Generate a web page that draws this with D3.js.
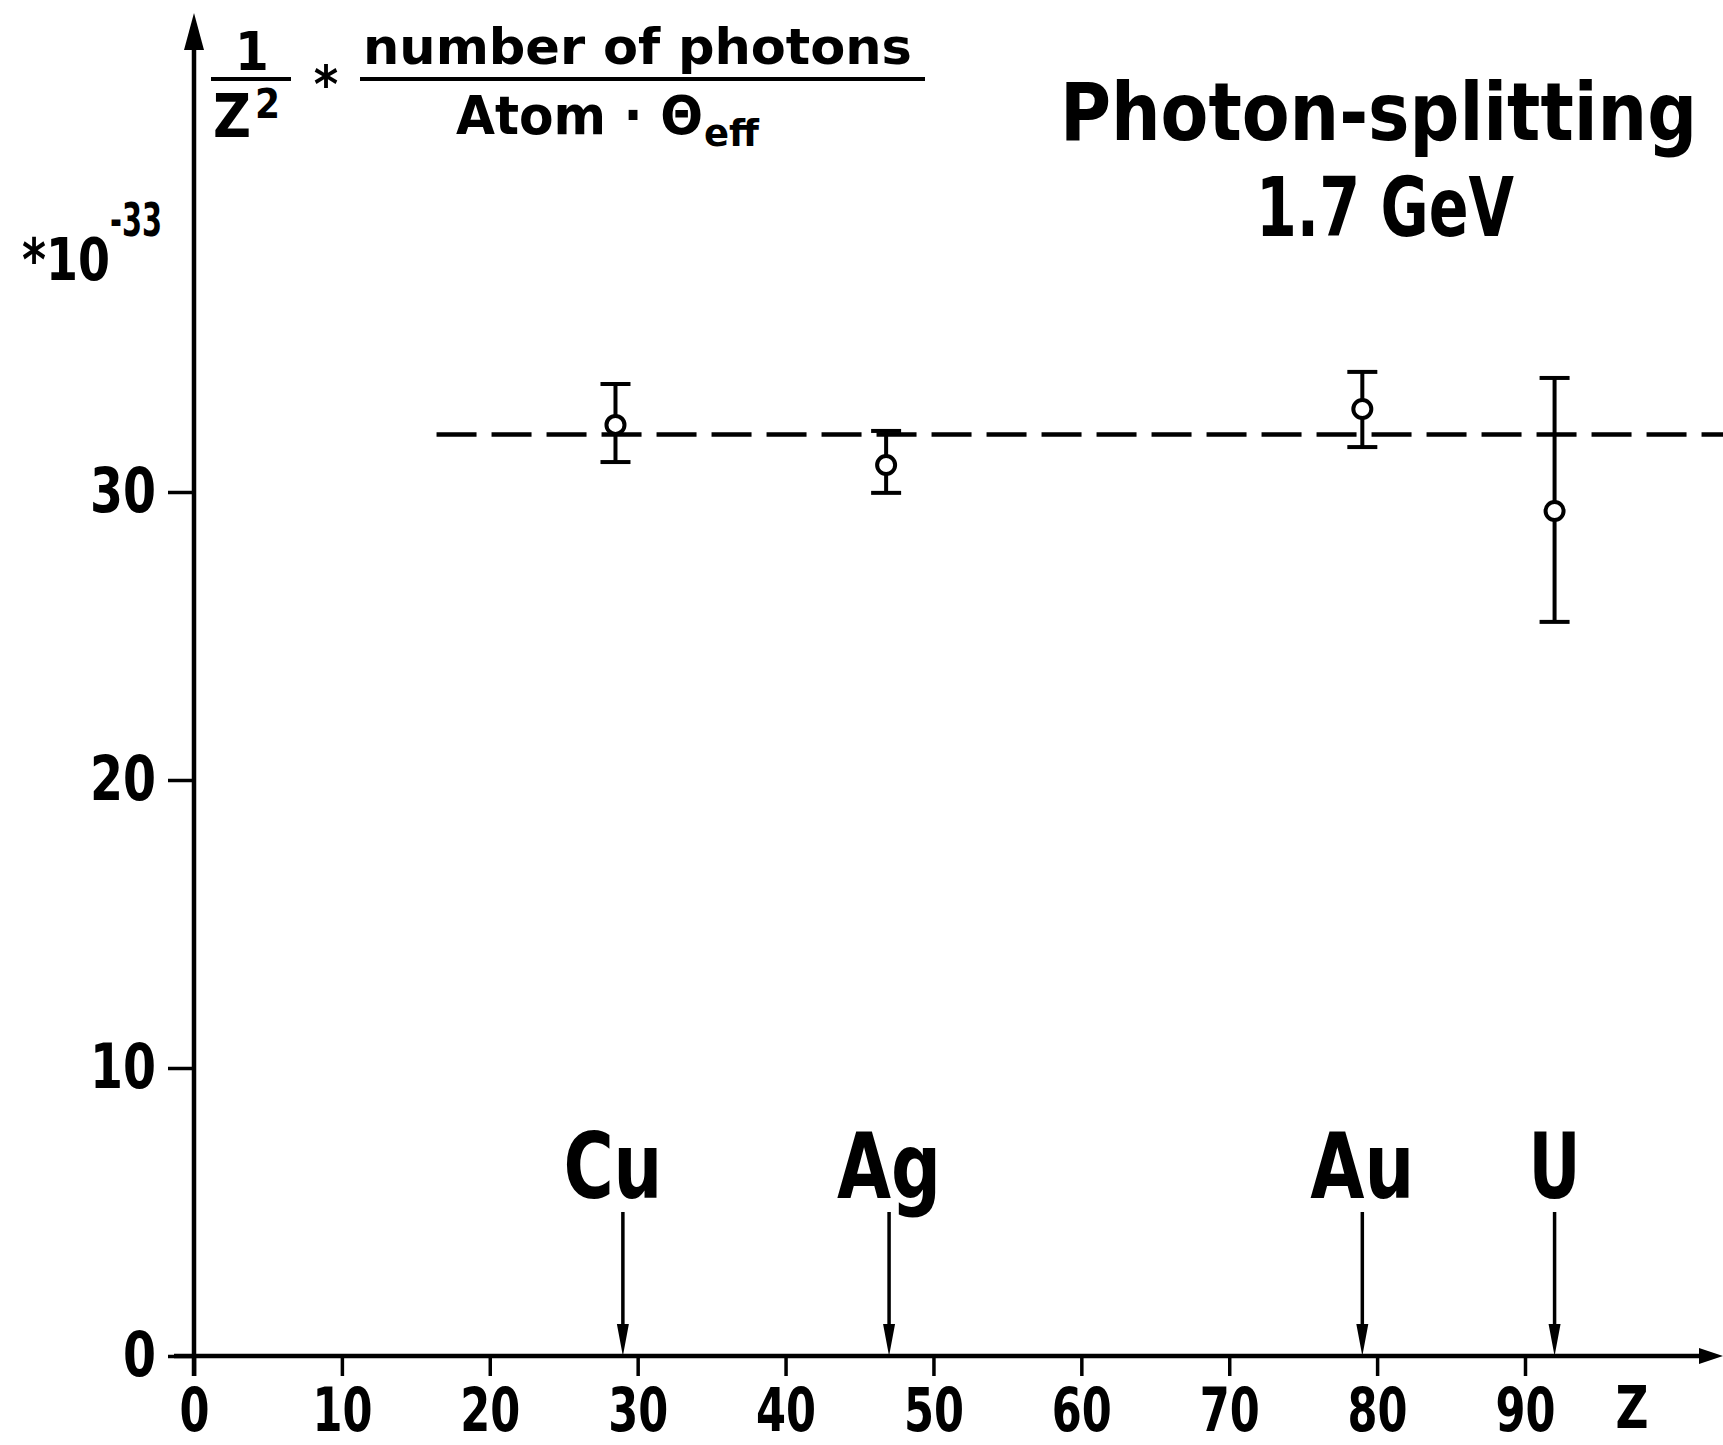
<!DOCTYPE html>
<html>
<head>
<meta charset="utf-8">
<script src="https://cdn.jsdelivr.net/npm/d3@7"></script>
<style>
  html, body { margin: 0; padding: 0; background: #fff; }
  svg { display: block; }
  text { font-family: "Liberation Sans Narrow", "DejaVu Sans Condensed", "Liberation Sans", sans-serif; fill: #000; }
</style>
</head>
<body>
<svg id="chart" width="1723" height="1445"></svg>
<script>
// ---- data ----
const xTicks = [0, 10, 20, 30, 40, 50, 60, 70, 80, 90];
const yTicks = [0, 10, 20, 30];
const elements = ["Cu", "Ag", "Au", "U"];
const elementZ = [29, 47, 79, 92];
const pointZ = [28.5, 46.8, 79, 92];
const pointValue = [32.33, 30.94, 32.88, 29.34];
const errLow = [31.04, 29.97, 31.56, 25.49];
const errHigh = [33.75, 32.12, 34.17, 33.96];
const fitValue = 32.0;
const fitRange = [16.4, 103.4];

const W = 1723, H = 1445;
const svg = d3.select("#chart");

const x = d3.scaleLinear().domain([0, 90]).range([194, 1525]);
const y = d3.scaleLinear().domain([0, 30]).range([1356, 492]);

const ink = "#000";
const fCond = "'Liberation Sans Narrow', 'DejaVu Sans Condensed', sans-serif";
const fSans = "'Liberation Sans', 'DejaVu Sans', sans-serif";

// ---- x axis ticks + labels ----
const gx = svg.append("g")
  .attr("transform", `translate(0,${y(0)})`)
  .call(d3.axisBottom(x).tickValues(xTicks).tickSize(20).tickPadding(12).tickFormat(d3.format("d")));
gx.select(".domain").remove();
gx.selectAll(".tick line").attr("stroke", ink).attr("stroke-width", 3.5);
gx.selectAll(".tick text")
  .attr("font-size", 60).attr("font-weight", "bold")
  .attr("font-family", fCond)
  .attr("textLength", d => String(d).length * 30)
  .attr("lengthAdjust", "spacingAndGlyphs");

// ---- y axis ticks + labels ----
const gy = svg.append("g")
  .attr("transform", `translate(${x(0)},0)`)
  .call(d3.axisLeft(y).tickValues(yTicks).tickSize(26).tickPadding(12).tickFormat(d3.format("d")));
gy.select(".domain").remove();
gy.selectAll(".tick line").attr("stroke", ink).attr("stroke-width", 3.5);
gy.selectAll(".tick text")
  .attr("font-size", 62).attr("font-weight", "bold")
  .attr("font-family", fCond)
  .attr("textLength", d => String(d).length * 33)
  .attr("lengthAdjust", "spacingAndGlyphs");

// ---- axis lines with arrows ----
const x0 = x(0), y0 = y(0);
svg.append("line")
  .attr("x1", x0 - 20).attr("y1", y0).attr("x2", W - 18).attr("y2", y0)
  .attr("stroke", ink).attr("stroke-width", 4.5);
svg.append("path")
  .attr("d", `M${W},${y0} L${W - 24},${y0 - 8} L${W - 24},${y0 + 8} Z`)
  .attr("fill", ink);

svg.append("line")
  .attr("x1", x0).attr("y1", y0 + 20).attr("x2", x0).attr("y2", 40)
  .attr("stroke", ink).attr("stroke-width", 4.5);
svg.append("path")
  .attr("d", `M${x0},13 L${x0 - 10},50 L${x0 + 10},50 Z`)
  .attr("fill", ink);

// "Z" axis label
svg.append("text")
  .attr("x", 1632).attr("y", 1428)
  .attr("text-anchor", "middle")
  .attr("font-size", 58).attr("font-weight", "bold")
  .attr("textLength", 33).attr("lengthAdjust", "spacingAndGlyphs")
  .text("Z");

// ---- dashed fit line ----
svg.append("line")
  .attr("x1", x(fitRange[0])).attr("x2", x(fitRange[1]))
  .attr("y1", y(fitValue)).attr("y2", y(fitValue))
  .attr("stroke", ink).attr("stroke-width", 4.5)
  .attr("stroke-dasharray", "40,15");

// ---- error bars + points ----
const pts = pointZ.map((z, i) => ({ z, v: pointValue[i], lo: errLow[i], hi: errHigh[i] }));
const gp = svg.append("g");
const capW = 15;
gp.selectAll("line.err").data(pts).join("line")
  .attr("class", "err")
  .attr("x1", d => x(d.z)).attr("x2", d => x(d.z))
  .attr("y1", d => y(d.lo)).attr("y2", d => y(d.hi))
  .attr("stroke", ink).attr("stroke-width", 4);
gp.selectAll("line.caplo").data(pts).join("line")
  .attr("class", "caplo")
  .attr("x1", d => x(d.z) - capW).attr("x2", d => x(d.z) + capW)
  .attr("y1", d => y(d.lo)).attr("y2", d => y(d.lo))
  .attr("stroke", ink).attr("stroke-width", 4);
gp.selectAll("line.caphi").data(pts).join("line")
  .attr("class", "caphi")
  .attr("x1", d => x(d.z) - capW).attr("x2", d => x(d.z) + capW)
  .attr("y1", d => y(d.hi)).attr("y2", d => y(d.hi))
  .attr("stroke", ink).attr("stroke-width", 4);
gp.selectAll("circle").data(pts).join("circle")
  .attr("cx", d => x(d.z)).attr("cy", d => y(d.v))
  .attr("r", 9).attr("fill", "#fff")
  .attr("stroke", ink).attr("stroke-width", 4);

// ---- element arrows + labels ----
const els = elements.map((e, i) => ({ e, z: elementZ[i] }));
const labelW = { Cu: 99, Ag: 104, Au: 104, U: 52 };
const ge = svg.append("g");
ge.selectAll("line").data(els).join("line")
  .attr("x1", d => x(d.z)).attr("x2", d => x(d.z))
  .attr("y1", 1212).attr("y2", y0 - 20)
  .attr("stroke", ink).attr("stroke-width", 3.5);
ge.selectAll("path").data(els).join("path")
  .attr("d", d => `M${x(d.z)},${y0} L${x(d.z) - 6},${y0 - 32} L${x(d.z) + 6},${y0 - 32} Z`)
  .attr("fill", ink);
ge.selectAll("text").data(els).join("text")
  .attr("x", d => x(d.z) - (d.e === "Cu" ? 10 : 0))
  .attr("y", 1198)
  .attr("text-anchor", "middle")
  .attr("font-size", 90).attr("font-weight", "bold")
  .attr("textLength", d => labelW[d.e]).attr("lengthAdjust", "spacingAndGlyphs")
  .text(d => d.e);

// ---- title ----
svg.append("text")
  .attr("x", 1060).attr("y", 140)
  .attr("font-size", 80).attr("font-weight", "bold")
  .attr("font-family", fSans)
  .attr("textLength", 637).attr("lengthAdjust", "spacingAndGlyphs")
  .text("Photon-splitting");
svg.append("text")
  .attr("x", 1256).attr("y", 236)
  .attr("font-size", 82).attr("font-weight", "bold")
  .attr("font-family", fSans)
  .attr("textLength", 258).attr("lengthAdjust", "spacingAndGlyphs")
  .text("1.7 GeV");

// ---- y-axis formula label ----
svg.append("text").attr("x", 252).attr("y", 70).attr("text-anchor", "middle")
  .attr("font-size", 54).attr("font-weight", "bold").attr("font-family", fSans).text("1");
svg.append("line").attr("x1", 211).attr("x2", 291).attr("y1", 79).attr("y2", 79)
  .attr("stroke", ink).attr("stroke-width", 4);
svg.append("text").attr("x", 213).attr("y", 137)
  .attr("font-size", 60).attr("font-weight", "bold").attr("font-family", fSans)
  .attr("textLength", 38).attr("lengthAdjust", "spacingAndGlyphs").text("Z");
svg.append("text").attr("x", 255).attr("y", 118)
  .attr("font-size", 40).attr("font-weight", "bold").attr("font-family", fSans).text("2");
svg.append("text").attr("x", 326).attr("y", 102).attr("text-anchor", "middle")
  .attr("font-size", 52).attr("font-weight", "bold").attr("font-family", fSans).text("*");
svg.append("text").attr("x", 363).attr("y", 64)
  .attr("font-size", 50).attr("font-weight", "bold").attr("font-family", fSans)
  .attr("textLength", 549).attr("lengthAdjust", "spacingAndGlyphs")
  .text("number of photons");
svg.append("line").attr("x1", 360).attr("x2", 925).attr("y1", 79).attr("y2", 79)
  .attr("stroke", ink).attr("stroke-width", 4);
svg.append("text").attr("x", 456).attr("y", 134)
  .attr("font-size", 54).attr("font-weight", "bold").attr("font-family", fSans)
  .attr("textLength", 247).attr("lengthAdjust", "spacingAndGlyphs")
  .text("Atom · Θ");
svg.append("text").attr("x", 704).attr("y", 146)
  .attr("font-size", 38).attr("font-weight", "bold").attr("font-family", fSans)
  .attr("textLength", 55).attr("lengthAdjust", "spacingAndGlyphs")
  .text("eff");

// *10^-33
svg.append("text").attr("x", 22).attr("y", 280)
  .attr("font-size", 58).attr("font-weight", "bold")
  .attr("textLength", 88).attr("lengthAdjust", "spacingAndGlyphs")
  .text("*10");
svg.append("text").attr("x", 110).attr("y", 236)
  .attr("font-size", 46).attr("font-weight", "bold")
  .attr("textLength", 52).attr("lengthAdjust", "spacingAndGlyphs")
  .text("-33");
</script>
</body>
</html>
